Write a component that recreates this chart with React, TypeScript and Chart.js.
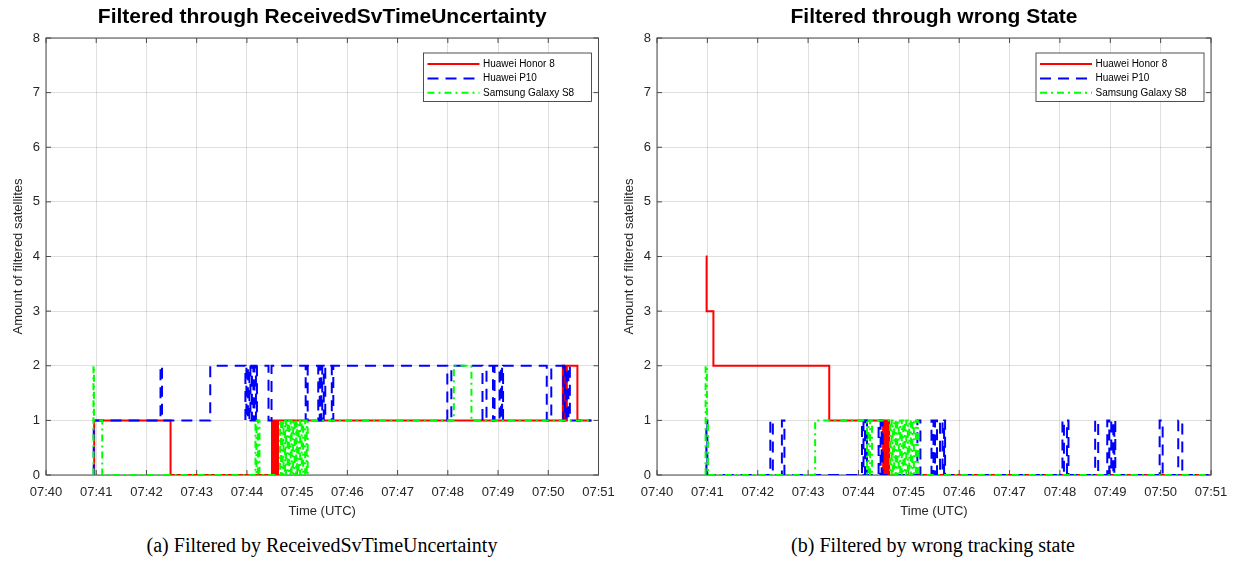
import React, { useEffect, useRef } from 'react';
import { Chart, registerables } from 'chart.js';

Chart.register(...registerables);

// ---------- labels ----------
const timeLabels = ['07:40', '07:41', '07:42', '07:43', '07:44', '07:45', '07:46', '07:47', '07:48', '07:49', '07:50', '07:51'];
const seriesNames = ['Huawei Honor 8', 'Huawei P10', 'Samsung Galaxy S8'];
const titleA = 'Filtered through ReceivedSvTimeUncertainty';
const titleB = 'Filtered through wrong State';
const captionA = '(a) Filtered by ReceivedSvTimeUncertainty';
const captionB = '(b) Filtered by wrong tracking state';
const xTitle = 'Time (UTC)';
const yTitle = 'Amount of filtered satellites';

// ---------- data (minutes after 07:40, number of satellites; each value holds until the next time) ----------
// (a) ReceivedSvTimeUncertainty
const aHonorT = [0.94, 0.96, 2.48, 4.50, 4.51, 4.53, 4.54, 4.56, 4.57, 4.59, 4.60, 4.62, 10.29, 10.31, 10.33, 10.35, 10.37, 10.58, 10.86];
const aHonorV = [0, 1, 0, 1, 0, 1, 0, 1, 0, 1, 0, 1, 2, 1, 2, 1, 2, 1, 1];

const aP10T = [0.94, 0.95, 2.28, 2.31, 3.27, 3.97, 3.99, 4.02, 4.05, 4.07, 4.10, 4.13, 4.15, 4.18, 4.20, 4.43, 4.49, 5.17, 5.21, 5.42, 5.45, 5.48, 5.50, 5.53, 5.56, 5.69, 5.72, 7.99, 8.07, 8.69, 8.77, 8.90, 8.93, 9.03, 9.06, 9.08, 9.10, 9.97, 10.06, 10.30, 10.33, 10.36, 10.40, 10.43, 10.86];
const aP10V = [0, 1, 2, 1, 2, 1, 2, 1, 2, 1, 2, 1, 2, 1, 2, 1, 2, 1, 2, 1, 2, 1, 2, 1, 2, 1, 2, 1, 2, 1, 2, 1, 2, 1, 2, 1, 2, 1, 2, 1, 2, 1, 2, 1, 1];

const aS8T = [0.94, 0.945, 0.955, 1.12, 4.17, 4.19, 4.22, 4.25, 4.66, 4.68, 4.71, 4.73, 4.76, 4.78, 4.81, 4.84, 4.87, 4.89, 4.92, 4.95, 4.98, 5.00, 5.03, 5.06, 5.09, 5.12, 5.16, 5.19, 5.21, 8.12, 8.47, 10.86];
const aS8V = [0, 2, 1, 0, 1, 0, 1, 0, 1, 0, 1, 0, 1, 0, 1, 0, 1, 0, 1, 0, 1, 0, 1, 0, 1, 0, 1, 0, 1, 2, 1, 1];

// (b) wrong tracking state
const bHonorT = [0.97, 0.985, 1.12, 3.42, 4.49, 4.50, 4.52, 4.53, 4.55, 4.56, 4.58, 4.59, 4.61, 10.95];
const bHonorV = [4, 3, 2, 1, 0, 1, 0, 1, 0, 1, 0, 1, 0, 0];

const bP10T = [0.97, 0.98, 1.0, 2.25, 2.30, 2.48, 2.53, 4.07, 4.10, 4.13, 4.17, 4.40, 4.44, 4.46, 4.48, 5.17, 5.23, 5.45, 5.49, 5.52, 5.56, 5.62, 5.67, 5.70, 5.72, 8.05, 8.08, 8.14, 8.17, 8.70, 8.76, 8.94, 8.98, 9.02, 9.06, 9.08, 9.10, 9.98, 10.04, 10.35, 10.43, 10.95];
const bP10V = [0, 1, 0, 1, 0, 1, 0, 1, 0, 1, 0, 1, 0, 1, 0, 1, 0, 1, 0, 1, 0, 1, 0, 1, 0, 1, 0, 1, 0, 1, 0, 1, 0, 1, 0, 1, 0, 1, 0, 1, 0, 0];

const bS8T = [0.96, 0.965, 0.99, 1.01, 3.14, 4.17, 4.20, 4.23, 4.27, 4.63, 4.66, 4.68, 4.71, 4.74, 4.77, 4.80, 4.83, 4.86, 4.89, 4.92, 4.95, 4.98, 5.01, 5.04, 5.07, 5.10, 5.14, 5.18, 10.95];
const bS8V = [0, 2, 1, 0, 1, 0, 1, 0, 1, 0, 1, 0, 1, 0, 1, 0, 1, 0, 1, 0, 1, 0, 1, 0, 1, 0, 1, 0, 0];

// ---------- styles ----------
const INK = '#262626';
const GRID = 'rgba(38,38,38,0.15)';
const SANS = '"Liberation Sans", Arial, Helvetica, sans-serif';
const seriesStyles = [
  { color: '#ff0000', dash: [] as number[], order: 3 },
  { color: '#0000ff', dash: [11, 7], order: 2 },
  { color: '#00ff00', dash: [7, 4, 2, 4], order: 1 },
];

const toPoints = (t: number[], v: number[]) => t.map((x, i) => ({ x, y: v[i] }));

const framePlugin = {
  id: 'matlabFrame',
  beforeDatasetsDraw(chart: any) {
    const { ctx, chartArea: a, scales } = chart;
    ctx.save();
    ctx.strokeStyle = '#4a4a4a';
    ctx.lineWidth = 1;
    ctx.strokeRect(a.left, a.top, a.right - a.left, a.bottom - a.top);
    const tl = 5;
    ctx.beginPath();
    scales.x.ticks.forEach((t: any) => {
      const px = scales.x.getPixelForValue(t.value);
      ctx.moveTo(px, a.bottom); ctx.lineTo(px, a.bottom - tl);
      ctx.moveTo(px, a.top); ctx.lineTo(px, a.top + tl);
    });
    scales.y.ticks.forEach((t: any) => {
      const py = scales.y.getPixelForValue(t.value);
      ctx.moveTo(a.left, py); ctx.lineTo(a.left + tl, py);
      ctx.moveTo(a.right, py); ctx.lineTo(a.right - tl, py);
    });
    ctx.stroke();
    ctx.restore();
  },
};

const legendPlugin = {
  id: 'boxLegend',
  afterDraw(chart: any) {
    const { ctx, chartArea: a } = chart;
    const w = 168, h = 48.5;
    const x0 = a.right - 7 - w;
    const y0 = a.top + 15;
    ctx.save();
    ctx.fillStyle = '#ffffff';
    ctx.fillRect(x0, y0, w, h);
    ctx.strokeStyle = INK;
    ctx.lineWidth = 0.8;
    ctx.strokeRect(x0, y0, w, h);
    chart.data.datasets.forEach((ds: any, i: number) => {
      const y = y0 + 11 + i * 14.4;
      ctx.strokeStyle = ds.borderColor;
      ctx.lineWidth = ds.borderWidth;
      ctx.setLineDash(ds.borderDash || []);
      ctx.beginPath();
      ctx.moveTo(x0 + 4, y);
      ctx.lineTo(x0 + 56, y);
      ctx.stroke();
      ctx.setLineDash([]);
      ctx.fillStyle = '#000000';
      ctx.font = `10px ${SANS}`;
      ctx.textBaseline = 'middle';
      ctx.textAlign = 'left';
      ctx.fillText(ds.label, x0 + 59.5, y);
    });
    ctx.restore();
  },
};

type PanelProps = {
  left: number;
  title: string;
  series: { t: number[]; v: number[] }[];
  yAxisWidth: number;
  padRight: number;
  yTitlePad: number;
};

const CW = 618;
const CH = 525;

function Panel({ left, title, series, yAxisWidth, padRight, yTitlePad }: PanelProps) {
  const ref = useRef<HTMLCanvasElement | null>(null);
  useEffect(() => {
    if (!ref.current) return;
    const datasets = series.map((s, i) => ({
      label: seriesNames[i],
      data: toPoints(s.t, s.v),
      borderColor: seriesStyles[i].color,
      backgroundColor: seriesStyles[i].color,
      borderDash: seriesStyles[i].dash,
      borderWidth: 2,
      pointRadius: 0,
      stepped: 'before' as const,
      fill: false,
      order: seriesStyles[i].order,
    }));
    const chart = new Chart(ref.current, {
      type: 'line',
      data: { datasets },
      plugins: [framePlugin, legendPlugin],
      options: {
        animation: false,
        responsive: false,
        maintainAspectRatio: false,
        events: [],
        layout: { padding: { left: 0, right: padRight, top: 0, bottom: 0 } },
        plugins: {
          legend: { display: false },
          tooltip: { enabled: false },
          title: {
            display: true,
            text: title,
            fullSize: false,
            color: '#000000',
            font: { family: SANS, size: 21, weight: 'bold' },
            padding: { top: 4.5, bottom: 8.3 },
          },
        },
        scales: {
          x: {
            type: 'linear',
            min: 0,
            max: 11,
            ticks: {
              stepSize: 1,
              autoSkip: false,
              maxRotation: 0,
              color: INK,
              font: { family: SANS, size: 13 },
              padding: 10,
              callback: (v: any) => timeLabels[Math.round(Number(v))] ?? '',
            },
            grid: { color: GRID, drawTicks: false },
            border: { display: false },
            title: {
              display: true,
              text: xTitle,
              color: INK,
              font: { family: SANS, size: 13 },
              padding: { top: 0, bottom: 6 },
            },
            afterFit: (s: any) => {
              s.height = CH - 475;
              s.paddingLeft = 0;
              s.paddingRight = 0;
            },
          },
          y: {
            type: 'linear',
            min: 0,
            max: 8,
            ticks: {
              stepSize: 1,
              color: INK,
              font: { family: SANS, size: 13 },
              padding: 6,
            },
            grid: { color: GRID, drawTicks: false },
            border: { display: false },
            title: {
              display: true,
              text: yTitle,
              color: INK,
              font: { family: SANS, size: 13 },
              padding: { top: yTitlePad, bottom: 0 },
            },
            afterFit: (s: any) => { s.width = yAxisWidth; },
          },
        },
      } as any,
    });
    return () => chart.destroy();
  }, []);
  return (
    <canvas
      ref={ref}
      width={CW}
      height={CH}
      style={{ position: 'absolute', left, top: 0, width: CW, height: CH }}
    />
  );
}

const captionStyle: React.CSSProperties = {
  position: 'absolute',
  top: 530,
  height: 30,
  lineHeight: '30px',
  fontFamily: '"Liberation Serif", "Times New Roman", serif',
  fontSize: 20,
  color: '#000',
  textAlign: 'center',
  whiteSpace: 'nowrap',
};

export default function App() {
  return (
    <div style={{ position: 'absolute', left: 0, top: 0, width: 1236, height: 567, background: '#ffffff', overflow: 'hidden' }}>
      <Panel
        left={0}
        title={titleA}
        series={[{ t: aHonorT, v: aHonorV }, { t: aP10T, v: aP10V }, { t: aS8T, v: aS8V }]}
        yAxisWidth={46}
        padRight={19.5}
        yTitlePad={11}
      />
      <Panel
        left={618}
        title={titleB}
        series={[{ t: bHonorT, v: bHonorV }, { t: bP10T, v: bP10V }, { t: bS8T, v: bS8V }]}
        yAxisWidth={39}
        padRight={25}
        yTitlePad={4}
      />
      <div style={{ ...captionStyle, left: 0, width: 644 }}>{captionA}</div>
      <div style={{ ...captionStyle, left: 618, width: 630 }}>{captionB}</div>
    </div>
  );
}
